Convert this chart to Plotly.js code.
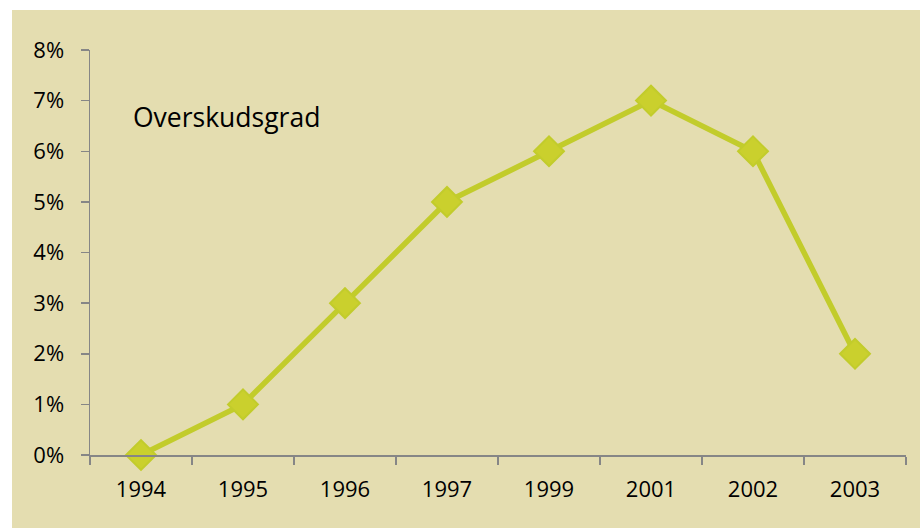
<!DOCTYPE html>
<html>
<head>
<meta charset="utf-8">
<script src="https://cdn.plot.ly/plotly-3.0.1.min.js"></script>
<style>
  html, body { margin: 0; padding: 0; background: #ffffff; }
  #chart { position: absolute; left: 12px; top: 10px; width: 908px; height: 518px; }
</style>
</head>
<body>
<div id="chart"></div>
<script>
const years = ["1994", "1995", "1996", "1997", "1999", "2001", "2002", "2003"];
const overskudsgrad = [0.00, 0.01, 0.03, 0.05, 0.06, 0.07, 0.06, 0.02];
const seriesLabel = "Overskudsgrad";

const trace = {
  x: years,
  y: overskudsgrad,
  type: "scatter",
  mode: "lines+markers",
  line: { color: "#C2CC2B", width: 5.5 },
  marker: { symbol: "diamond", size: 23, color: "#CAD02D", line: { color: "#C2CC2B", width: 2 } },
  cliponaxis: false,
  hoverinfo: "skip"
};

const layout = {
  width: 908,
  height: 518,
  margin: { l: 78, r: 14, t: 40, b: 73 },
  paper_bgcolor: "#E4DDB0",
  plot_bgcolor: "#E4DDB0",
  showlegend: false,
  font: { family: "Open Sans, sans-serif", size: 21, color: "#000000" },
  xaxis: {
    type: "category",
    range: [-0.5, 7.5],
    showline: true, linecolor: "#868686", linewidth: 1.5,
    ticks: "outside", tickson: "boundaries", ticklen: 8, tickcolor: "#868686", tickwidth: 1.5,
    showgrid: false, zeroline: false,
    ticklabelstandoff: 14,
    tickfont: { family: "Open Sans, sans-serif", size: 22, color: "#000" }
  },
  yaxis: {
    range: [0, 0.08],
    dtick: 0.01, tick0: 0,
    tickformat: ".0%",
    showline: true, linecolor: "#868686", linewidth: 1.5,
    ticks: "outside", ticklen: 8, tickcolor: "#868686", tickwidth: 1.5,
    showgrid: false, zeroline: false,
    ticklabelstandoff: 12,
    tickfont: { family: "Open Sans, sans-serif", size: 22, color: "#000" }
  },
  annotations: [{
    text: seriesLabel,
    xref: "paper", yref: "paper",
    x: 0.05, y: 0.835,
    xanchor: "left", yanchor: "middle",
    showarrow: false,
    font: { family: "Open Sans, sans-serif", size: 26.5, color: "#000" }
  }]
};

Plotly.newPlot("chart", [trace], layout, { displayModeBar: false, staticPlot: true });
</script>
</body>
</html>
